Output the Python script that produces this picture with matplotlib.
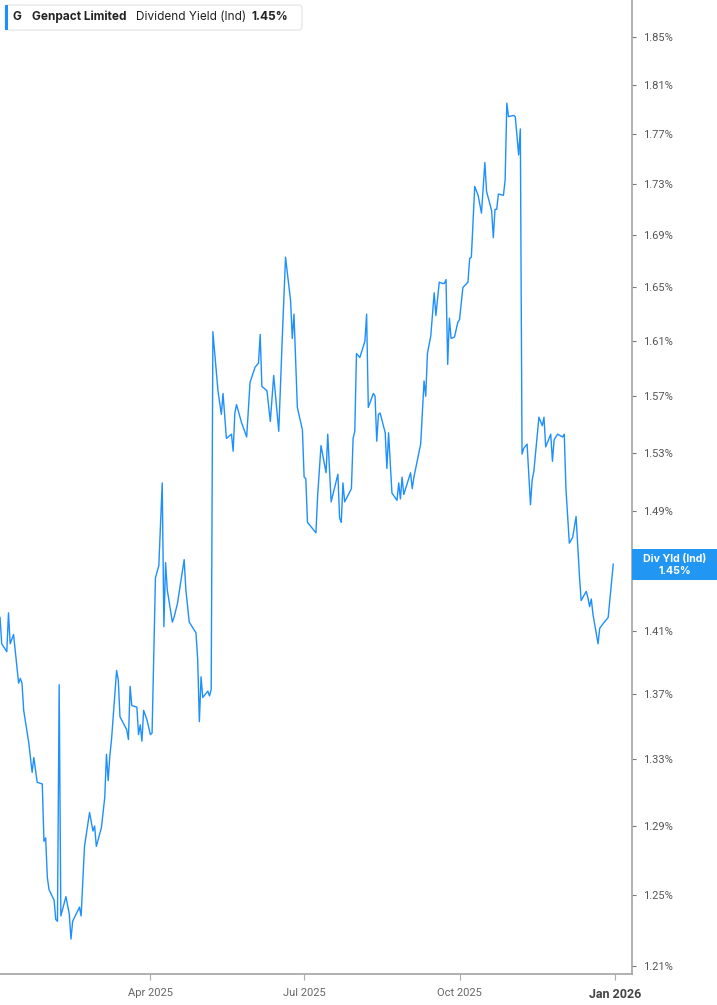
import numpy as np, pandas as pd, matplotlib
matplotlib.use("Agg")
import matplotlib.pyplot as plt
from matplotlib.patches import FancyBboxPatch, Rectangle
from matplotlib.ticker import FixedLocator, FuncFormatter, NullLocator

# days since 2025-01-01 and indicated dividend yield (%)
day = [1,2,5,6,7,9,12,13,14,15,18,20,21,23,26,27,28,29,30,33,
       34,35,36,37,40,42,43,44,48,49,51,54,56,57,58,61,63,64,65,66,
       67,70,71,72,76,77,78,79,82,83,84,85,86,88,90,91,93,95,97,98,
       99,100,103,104,106,110,111,113,117,118,119,120,121,124,125,126,127,
       130,132,133,135,138,139,140,141,144,147,149,152,154,155,156,159,161,163,166,168,
       170,173,174,175,177,180,181,182,183,188,
       189,191,194,195,197,201,202,203,204,205,209,210,211,212,214,217,218,219,222,223,
       224,225,226,229,230,231,233,236,237,238,239,240,244,245,246,
       250,252,253,254,256,258,259,261,263,264,265,266,267,268,270,272,273,275,278,279,
       280,282,284,286,288,289,292,293,294,295,296,299,300,301,302,305,306,308,309,310,
       311,313,315,316,317,320,322,323,324,327,328,329,331,334,335,336,338,340,342,344,
       345,348,349,350,351,352,355,356,358,361,364]
yld = [1.419,1.402,1.397,1.422,1.402,1.408,1.377,1.380,1.377,1.360,
       1.340,1.322,1.331,1.316,1.315,1.281,1.283,1.260,1.253,1.247,
       1.236,1.235,1.376,1.238,1.249,1.239,1.225,1.235,1.243,1.238,
       1.278,1.298,1.287,1.290,1.278,1.289,1.307,1.333,1.317,1.332,
       1.342,1.385,1.379,1.356,1.348,1.342,1.375,1.363,1.362,1.345,
       1.351,1.341,1.360,1.354,1.345,1.346,1.445,1.453,1.509,1.413,
       1.455,1.437,1.416,1.419,1.428,1.457,1.437,1.416,1.409,1.392,
       1.353,1.381,1.368,1.372,1.369,1.373,1.617,
       1.574,1.557,1.572,1.540,1.543,1.531,1.558,1.564,1.551,1.541,
       1.580,1.591,1.594,1.615,1.577,1.574,1.552,1.585,1.545,1.610,
       1.673,1.640,1.612,1.630,1.562,1.546,1.513,1.512,1.482,1.475,
       1.500,1.535,1.516,1.543,1.496,1.515,1.485,1.482,1.509,1.496,
       1.505,1.540,1.545,1.601,1.598,1.610,1.630,1.562,1.572,1.570,
       1.538,1.557,1.558,1.544,1.519,1.544,1.502,1.497,1.509,1.498,
       1.513,1.501,1.516,1.505,1.513,
       1.536,1.581,1.570,1.601,1.614,1.646,1.629,1.654,1.653,1.653,
       1.656,1.593,1.627,1.612,1.613,1.624,1.626,1.650,1.654,1.672,
       1.673,1.728,1.721,1.707,1.747,1.724,1.709,1.688,1.710,1.710,
       1.722,1.721,1.733,1.795,1.784,1.785,1.784,1.753,1.774,1.529,
       1.533,1.536,1.494,1.511,1.517,1.555,1.549,1.555,1.534,1.543,
       1.524,1.539,1.543,1.541,1.543,1.505,1.468,1.472,1.486,1.446,
       1.430,1.436,1.432,1.426,1.431,1.421,1.402,1.412,1.415,1.419,
       1.454]
# 1.45% sits under the last-value tag, so it is left out
yticks = [1.21,1.25,1.29,1.33,1.37,1.41,1.49,1.53,1.57,1.61,1.65,1.69,1.73,1.77,1.81,1.85]
xticks = ["2025-04-01","2025-07-01","2025-10-01","2026-01-01"]
xlabels = ["Apr 2025","Jul 2025","Oct 2025","Jan 2026"]
ticker, name, metric, last = "G", "Genpact Limited", "Dividend Yield (Ind)", "1.45%"

t0 = pd.Timestamp("2025-01-01")
dates = t0 + pd.to_timedelta(day, unit="D")

W, H = 717, 1005
BLUE = "#1e8fff"
GREY = "#aaaaaa"
plt.rcParams["font.family"] = ["Roboto", "DejaVu Sans"]

fig = plt.figure(figsize=(W/100, H/100), dpi=100)
ax = fig.add_axes([0, 31/H, 632/W, 1 - 31/H])
ax.plot(dates, yld, color=BLUE, lw=1.0)

ax.set_yscale("log")
ax.set_ylim(1.2056, 1.8817)
ax.yaxis.set_major_locator(FixedLocator(yticks))
ax.yaxis.set_minor_locator(NullLocator())
ax.yaxis.set_major_formatter(FuncFormatter(lambda v, p: f"{v:.2f}%"))
ax.yaxis.tick_right()
ax.set_xlim(t0 + pd.Timedelta(days=0.98), t0 + pd.Timedelta(days=375.1))
ax.set_xticks(pd.to_datetime(xticks))
ax.set_xticklabels(xlabels)
ax.xaxis.set_minor_locator(NullLocator())

for s in ("left", "top"):
    ax.spines[s].set_visible(False)
for s in ("right", "bottom"):
    ax.spines[s].set_color(GREY); ax.spines[s].set_linewidth(1.3)
ax.tick_params(axis="y", which="major", length=3, width=0.8, color="#777777",
               pad=5, labelsize=8, labelcolor="#555555")
ax.tick_params(axis="x", which="major", length=4, width=0.8, color=GREY,
               pad=6, labelsize=8, labelcolor="#666666")
lab = ax.get_xticklabels()[-1]
lab.set_fontweight("bold"); lab.set_color("#444444"); lab.set_fontsize(9)

def px(x, y):
    return x / W, 1 - y / H

# header legend box
fig.patches.append(FancyBboxPatch(px(5, 30), 297/W, 25/H, boxstyle="round,pad=0,rounding_size=0.004",
                                  transform=fig.transFigure, fc="white", ec="#e3e3e3", lw=0.8, zorder=3))
fig.patches.append(Rectangle(px(5, 30), 3/W, 25/H, transform=fig.transFigure,
                             fc=BLUE, ec="none", zorder=4))
hdr = dict(fontsize=8.5, color="#222222", va="center", ha="left", family=["Inter", "DejaVu Sans"], zorder=5)
fig.text(*px(13, 17), ticker, fontweight="bold", **hdr)
fig.text(*px(32, 17), name, fontweight="bold", **hdr)
fig.text(*px(136, 17), metric, **hdr)
fig.text(*px(252, 17), last, fontweight="bold", **hdr)

# last value tag on the right axis
fig.patches.append(Rectangle(px(632, 580), 85/W, 31/H, transform=fig.transFigure,
                             fc="#2196f3", ec="none", zorder=4))
tag = dict(fontsize=7.6, color="white", fontweight="bold", ha="center", va="center",
           family=["Inter", "DejaVu Sans"], zorder=5)
fig.text(*px(675, 559), "Div Yld (Ind)", **tag)
fig.text(*px(675, 571), last, **tag)

fig.savefig("out.png", dpi=100)
